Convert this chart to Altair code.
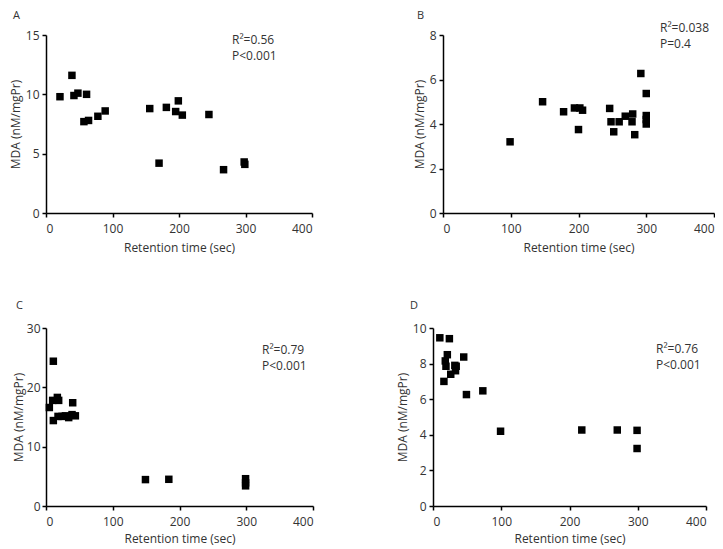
import altair as alt
import pandas as pd

# ---------- data ----------
a_time = [21, 39, 42, 48, 61, 57, 64, 78, 89, 156, 170, 181, 199, 195, 205, 245, 267, 298, 299]
a_mda = [9.8, 11.6, 9.9, 10.1, 10.0, 7.7, 7.8, 8.15, 8.6, 8.8, 4.2, 8.9, 9.45, 8.55, 8.25, 8.3, 3.65, 4.3, 4.1]

b_time = [99, 147, 178, 194, 202, 200, 206, 246, 248, 252, 260, 269, 280, 279, 283, 292, 300, 300, 300, 300]
b_mda = [3.2, 5.0, 4.55, 4.72, 4.72, 3.75, 4.62, 4.7, 4.1, 3.65, 4.1, 4.35, 4.45, 4.1, 3.52, 6.27, 5.37, 4.38, 4.2, 4.0]

c_time = [5, 11, 10, 11, 17, 19, 18, 24, 29, 34, 39, 40, 44, 149, 184, 299, 299, 299]
c_mda = [16.6, 24.4, 17.8, 14.4, 18.3, 17.8, 15.1, 15.1, 15.2, 14.9, 15.4, 17.4, 15.2, 4.45, 4.5, 4.6, 3.9, 3.4]

d_time = [10, 24, 16, 18, 19, 21, 26, 32, 33, 34, 45, 49, 73, 99, 218, 270, 299, 299]
d_mda = [9.45, 9.4, 7.0, 8.15, 7.85, 8.5, 7.4, 7.9, 7.6, 7.85, 8.37, 6.26, 6.47, 4.2, 4.27, 4.27, 4.25, 3.23]

x_ticks = [0, 100, 200, 300, 400]

FONT = "Open Sans"
TXT = "#333333"


def panel(times, vals, ydom, yticks, letter, stats, w, h, stat_pos, letter_pos,
          ypad=(3, 3), xtitle_pad=8):
    df = pd.DataFrame({"t": times, "v": vals})
    pts = alt.Chart(df).mark_point(shape="square", filled=True, size=56,
                                   color="black", opacity=1).encode(
        x=alt.X("t:Q", scale=alt.Scale(domain=[0, 400], nice=False),
                axis=alt.Axis(values=x_ticks, title="Retention time (sec)",
                              labelPadding=6, titlePadding=xtitle_pad)),
        y=alt.Y("v:Q", scale=alt.Scale(domain=ydom, nice=False),
                axis=alt.Axis(values=yticks, title="MDA (nM/mgPr)",
                              labelPadding=ypad[0], titlePadding=ypad[1])),
    )
    st = alt.Chart(pd.DataFrame({"s": [stats]})).mark_text(
        align="left", baseline="top", fontSize=12, font=FONT, color=TXT,
        lineBreak="\n", lineHeight=16).encode(
        x=alt.value(stat_pos[0]), y=alt.value(stat_pos[1]), text="s:N")
    lt = alt.Chart(pd.DataFrame({"s": [letter]})).mark_text(
        align="left", baseline="middle", fontSize=11, font=FONT, color=TXT).encode(
        x=alt.value(letter_pos[0]), y=alt.value(letter_pos[1]), text="s:N")
    return alt.layer(pts, st, lt).properties(width=w, height=h)


pa = panel(a_time, a_mda, [0, 15], [0, 5, 10, 15], "A", "R²=0.56\nP<0.001",
           266, 178, (186, 0), (-33, -19))
pb = panel(b_time, b_mda, [0, 8], [0, 2, 4, 6, 8], "B", "R²=0.038\nP=0.4",
           271, 178, (217, -12), (-26, -19))
pc = panel(c_time, c_mda, [0, 30], [0, 10, 20, 30], "C", "R²=0.79\nP<0.001",
           267, 178, (216, 17), (-30, -22), ypad=(2, 1), xtitle_pad=6)
pd_ = panel(d_time, d_mda, [0, 10], [0, 2, 4, 6, 8, 10], "D", "R²=0.76\nP<0.001",
            273, 178, (223, 16), (-23, -22), xtitle_pad=6)

top = alt.hconcat(pa, pb, spacing=100)
bottom = alt.hconcat(pc, pd_, spacing=82)

chart = alt.vconcat(top, bottom, spacing=47).properties(
    padding={"left": 1, "top": 2, "right": 0, "bottom": 6},
    background="white",
).configure_view(stroke=None).configure_axis(
    grid=False, domainColor="black", tickColor="black", domainWidth=1.5,
    tickWidth=1.5, tickSize=4, labelColor=TXT, titleColor=TXT,
    labelFont=FONT, titleFont=FONT, labelFontSize=12, titleFontSize=12,
    titleFontWeight="normal",
)

chart.save("out.html", embed_options={"renderer": "svg", "actions": False})
